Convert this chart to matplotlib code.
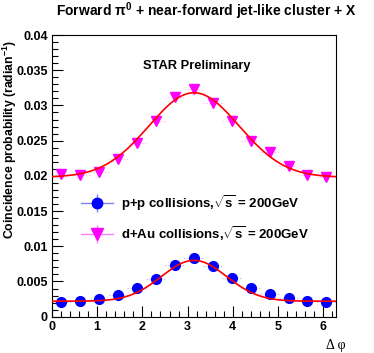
import numpy as np
import matplotlib
matplotlib.use("Agg")
import matplotlib.pyplot as plt
from matplotlib.lines import Line2D
from matplotlib.ticker import MultipleLocator

# bin centres in delta phi (15 bins over 0..2pi)
dphi = [0.21, 0.63, 1.05, 1.47, 1.88, 2.30, 2.72, 3.14, 3.56, 3.98, 4.40, 4.82, 5.24, 5.65, 6.07]
pp_prob = [0.00205, 0.00228, 0.00250, 0.00313, 0.00413, 0.00535, 0.00734, 0.00830,
           0.00720, 0.00550, 0.00410, 0.00320, 0.00270, 0.00228, 0.00210]
dau_prob = [0.0202, 0.0201, 0.02055, 0.0224, 0.0246, 0.0278, 0.0312, 0.0324,
            0.0303, 0.0278, 0.0250, 0.0234, 0.0214, 0.0201, 0.0198]
pp_err = [0.00008] * 15
dau_err = [0.0002] * 15
bin_half_width = 0.21

# gaussian + constant fit parameters (const, amplitude, mean, sigma)
pp_fit = (0.0022, 0.0058, 3.14159, 0.72)
dau_fit = (0.0198, 0.0120, 3.14159, 1.00)

labels = ["p+p collisions,$\\sqrt{s}$ = 200GeV", "d+Au collisions,$\\sqrt{s}$ = 200GeV"]

W, H = 374, 353

plt.rcParams["font.family"] = ["Liberation Sans", "DejaVu Sans"]
plt.rcParams["font.weight"] = "bold"
plt.rcParams["mathtext.fontset"] = "custom"
plt.rcParams["mathtext.rm"] = "Liberation Sans:bold"
plt.rcParams["mathtext.it"] = "Liberation Sans:bold"
plt.rcParams["mathtext.bf"] = "Liberation Sans:bold"


def gaus_const(x, p):
	c, a, mu, sig = p
	return c + a * np.exp(-0.5 * ((x - mu) / sig) ** 2)


def main() -> None:
	fig = plt.figure(figsize=(W / 100, H / 100), dpi=100)
	ax = fig.add_axes([52 / W, 1 - 316.7 / H, (336 - 52) / W, (316.7 - 35) / H])

	xs = np.linspace(0, 2 * np.pi, 400)

	for vals, errs, col, ecol, mk, ms, fit in [
		(pp_prob, pp_err, "#0000ff", "#8080ff", "o", 7, pp_fit),
		(dau_prob, dau_err, "#ff00ff", "#ff80ff", "v", 7.5, dau_fit),
	]:
		eb = ax.errorbar(dphi, vals, xerr=bin_half_width, yerr=errs, fmt="none",
						 ecolor=ecol, elinewidth=0.8, alpha=0.6, zorder=2)
		for ln in eb[2]:
			ln.set_linestyle(":")
		ax.plot(dphi, vals, ls="none", marker=mk, ms=ms, color=col, mec=col, zorder=3)
		ax.plot(xs, gaus_const(xs, fit), color="#ff0000", lw=1.2, zorder=4)

	ax.set_xlim(0, 2 * np.pi)
	ax.set_ylim(0, 0.04)
	ax.xaxis.set_major_locator(MultipleLocator(1))
	ax.xaxis.set_minor_locator(MultipleLocator(0.2))
	ax.yaxis.set_major_locator(MultipleLocator(0.005))
	ax.yaxis.set_minor_locator(MultipleLocator(0.001))
	ax.set_yticks(np.arange(0, 0.0401, 0.005))
	ax.set_yticklabels(["0", "0.005", "0.01", "0.015", "0.02", "0.025", "0.03", "0.035", "0.04"])
	ax.tick_params(which="both", direction="in", top=False, right=False, labelsize=9, width=0.8)
	ax.tick_params(which="major", length=8, pad=3)
	ax.tick_params(which="minor", length=4)
	for lab in ax.get_xticklabels() + ax.get_yticklabels():
		lab.set_fontweight("bold")
	for sp in ax.spines.values():
		sp.set_linewidth(0.8)

	handles = [
		(Line2D([], [], color="#8080ff", lw=1.0),
		 Line2D([], [], color="#8080ff", marker="|", ms=13, mew=1.0, ls="none"),
		 Line2D([], [], color="#0000ff", marker="o", ms=7.5, ls="none")),
		(Line2D([], [], color="#ff80ff", lw=1.0),
		 Line2D([], [], color="#ff80ff", marker="|", ms=13, mew=1.0, ls="none"),
		 Line2D([], [], color="#ff00ff", marker="v", ms=8, ls="none")),
	]
	fig.legend(handles, labels, loc="upper left", bbox_to_anchor=(81 / W, 1 - 193 / H),
			   frameon=False, fontsize=9.5, handlelength=2.4, handletextpad=0.6,
			   labelspacing=0.85, borderpad=0, borderaxespad=0)

	fig.text(206 / W, 1 - 11 / H, "Forward $\\pi^{0}$ + near-forward jet-like cluster + X",
			 ha="center", va="center", fontsize=10, fontweight="bold")
	fig.text(196.5 / W, 1 - 66 / H, "STAR Preliminary", ha="center", va="center",
			 fontsize=9.3, fontweight="bold")
	fig.text(1 / W, 1 - 140 / H, "Coincidence probability (radian$^{-1}$)", rotation=90,
			 ha="left", va="center", fontsize=8.8, fontweight="bold")
	fig.text(336 / W, 1 - 345 / H, "\u0394 \u03c6", ha="center", va="center",
			 fontsize=10, fontweight="normal", family=["Liberation Serif", "DejaVu Serif"])

	fig.savefig("out.png", dpi=100)


if __name__ == "__main__":
	main()
